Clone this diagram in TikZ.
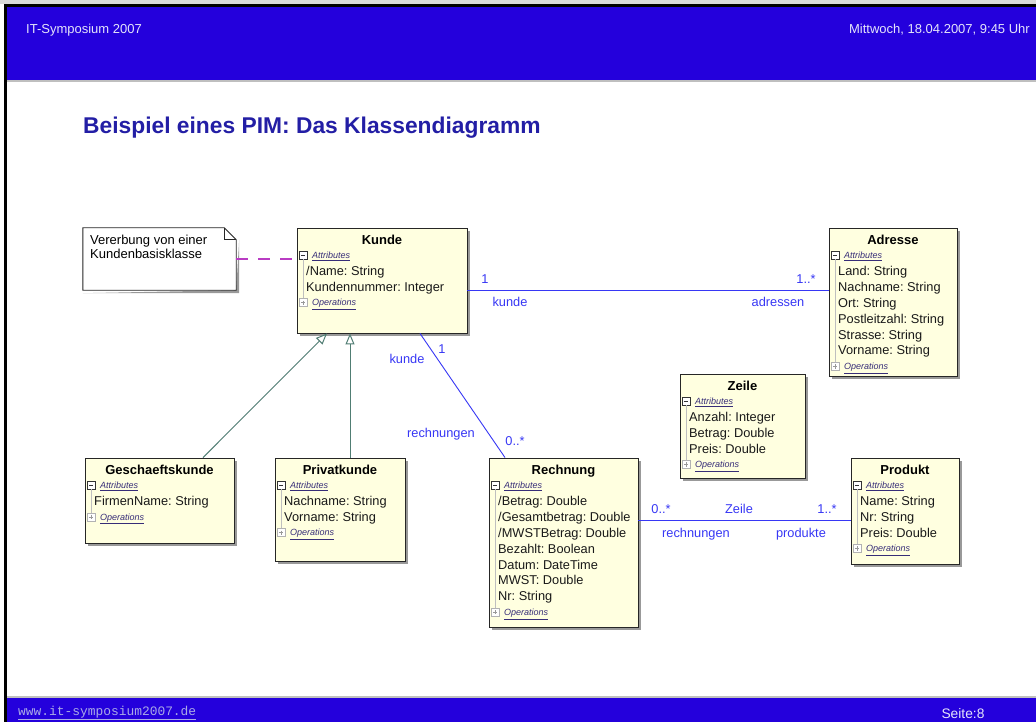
\documentclass[tikz,border=0pt]{standalone}
\usepackage{fontspec}
\setmainfont{Liberation Sans}
\setmonofont{Liberation Mono}
\usetikzlibrary{arrows.meta,shadows}
\frenchspacing

\definecolor{hdrblue}{RGB}{36,0,220}
\definecolor{classfill}{RGB}{255,255,224}
\definecolor{assoc}{RGB}{55,55,245}
\definecolor{gencol}{RGB}{80,125,115}
\definecolor{notelink}{RGB}{185,60,195}
\definecolor{titleblue}{RGB}{35,30,165}
\definecolor{hdrtext}{RGB}{228,228,250}
\definecolor{urltext}{RGB}{170,170,230}
\definecolor{compcol}{RGB}{55,45,120}

\tikzset{
  classbox/.style={draw=black!85, fill=classfill, line width=0.9pt, inner sep=0pt,
    drop shadow={shadow xshift=3pt, shadow yshift=-3pt, fill=black!40, opacity=1}},
  ctitle/.style={font=\fontsize{13}{15}\selectfont\bfseries, inner sep=0pt, text height=10pt, text depth=1pt},
  attr/.style={font=\fontsize{12.8}{15}\selectfont, anchor=west, inner sep=0pt, text=black!90, text height=10pt, text depth=1pt},
  comp/.style={font=\fontsize{9}{10}\selectfont\itshape, anchor=west, inner sep=0pt, text=compcol, text height=7pt, text depth=0.5pt},
  minusbox/.style={draw=black!80, fill=white, minimum size=8pt, inner sep=0pt, line width=0.6pt,
    path picture={\draw[line width=0.7pt] ([xshift=1.8pt]path picture bounding box.west) -- ([xshift=-1.8pt]path picture bounding box.east);}},
  plusbox/.style={draw=black!30, fill=white, minimum size=8pt, inner sep=0pt, line width=0.6pt,
    path picture={\draw[black!40, line width=0.6pt] ([xshift=1.8pt]path picture bounding box.west) -- ([xshift=-1.8pt]path picture bounding box.east)
      ([yshift=-1.8pt]path picture bounding box.north) -- ([yshift=1.8pt]path picture bounding box.south);}},
  treeline/.style={draw=black!25, line width=0.7pt},
  assocline/.style={draw=assoc, line width=0.9pt},
  genline/.style={draw=gencol, line width=1pt, -{Triangle[open, length=11pt, width=9pt, fill=white]}},
  notelinkline/.style={draw=notelink, line width=1.1pt, dash pattern=on 12pt off 10pt},
  mult/.style={font=\fontsize{12.8}{15}\selectfont, text=assoc, inner sep=0pt, text height=10pt, text depth=1pt},
  notetext/.style={font=\fontsize{13}{14}\selectfont, align=left, anchor=north west, inner sep=0pt},
  hdr/.style={font=\fontsize{13}{15}\selectfont, text=hdrtext, inner sep=0pt},
}

% UML class: name, left, top, right, bottom, title, attribute list
\newcommand{\umlclass}[7]{%
  \node[classbox, minimum width={#4-#2}, minimum height={#5-#3}] (#1) at ({(#2+#4)/2},{(#3+#5)/2}) {};
  \node[ctitle] (#1-title) at ({(#2+#4)/2},{#3+12}) {#6};
  \node[minusbox] (#1-min) at ({#2+6},{#3+27}) {};
  \node[comp] (#1-attrs) at ({#2+15},{#3+27}) {\underline{Attributes}};
  \foreach \a [count=\i] in {#7} {
    \node[attr] (#1-a\i) at ({#2+9},{#3+27+15.9*\i}) {\a};
    \xdef\nattr{\i}
  }
  \node[plusbox] (#1-plus) at ({#2+6},{#3+27+15.9*(\nattr+1)}) {};
  \node[comp] (#1-ops) at ({#2+15},{#3+27+15.9*(\nattr+1)}) {\underline{Operations}};
  \draw[treeline] (#1-min.south) -- (#1-plus.north);
}

\begin{document}
\begin{tikzpicture}[x=1pt,y=-1pt]
\useasboundingbox (0,0) rectangle (1036,722);
\fill[white] (0,0) rectangle (1036,722);

% slide frame, header and footer bars
\fill[black!15] (0,0) rectangle (1036,4);
\fill[black] (4,4) rectangle (1036,7);
\fill[black] (4,4) rectangle (7,722);
\fill[hdrblue] (7,7) rectangle (1036,80);
\fill[black!25] (7,80) rectangle (1036,82);
\fill[black!25] (7,696) rectangle (1036,698);
\fill[hdrblue] (7,698) rectangle (1036,722);

\node[hdr, anchor=west] (hleft) at (26,30) {IT-Symposium 2007};
\node[hdr, anchor=east] (hright) at (1030,30) {Mittwoch, 18.04.2007, 9:45 Uhr};
\node[font=\fontsize{12.9}{14}\ttfamily, text=urltext, anchor=west, inner sep=0pt] (url) at (18,713) {\underline{www.it-symposium2007.de}};
\node[hdr, font=\fontsize{13.8}{15}\selectfont] (page) at (963,714) {Seite:8};

% slide title
\node[font=\fontsize{22.8}{26}\selectfont\bfseries, text=titleblue, anchor=west, inner sep=0pt] (title) at (83,128) {Beispiel eines PIM: Das Klassendiagramm};

% note
\node[minimum width=153pt, minimum height=62pt, inner sep=0pt] (note) at (159.5,259) {};
\fill[black!40] ([xshift=3pt,yshift=-12pt]note.north east) -- ([xshift=3pt,yshift=-3pt]note.south east) -- ([xshift=3pt,yshift=-3pt]note.south west) -- ([yshift=-3pt]note.south west) -- (note.south east) -- cycle;
\draw[fill=white, line width=0.9pt, draw=black!85] (note.north west) -- ([xshift=-12pt]note.north east) -- ([yshift=-12pt]note.north east) -- (note.south east) -- (note.south west) -- cycle;
\draw[line width=0.7pt, draw=black!85] ([xshift=-12pt]note.north east) -- ([xshift=-12pt,yshift=-12pt]note.north east) -- ([yshift=-12pt]note.north east);
\node[notetext] (notetxt) at (90,235) {Vererbung von einer\\Kundenbasisklasse};

% classes
\umlclass{kunde}{297}{228}{467}{333}{Kunde}{/Name: String, Kundennummer: Integer}
\umlclass{adresse}{829}{228}{957}{376}{Adresse}{Land: String, Nachname: String, Ort: String, Postleitzahl: String, Strasse: String, Vorname: String}
\umlclass{zeile}{680}{374}{805}{478}{Zeile}{Anzahl: Integer, Betrag: Double, Preis: Double}
\umlclass{gkunde}{85}{458}{234}{543}{Geschaeftskunde}{FirmenName: String}
\umlclass{pkunde}{275}{458}{405}{561}{Privatkunde}{Nachname: String, Vorname: String}
\umlclass{rechnung}{489}{458}{638}{627}{Rechnung}{/Betrag: Double, /Gesamtbetrag: Double, /MWSTBetrag: Double, Bezahlt: Boolean, Datum: DateTime, MWST: Double, Nr: String}
\umlclass{produkt}{851}{458}{959}{564}{Produkt}{Name: String, Nr: String, Preis: Double}

% note link
\draw[notelinkline] (note.east) -- (note.east -| kunde.west);

% generalisations
\draw[genline] ([xshift=43.5pt]gkunde.north) -- ([xshift=-55pt]kunde.south);
\draw[genline] ([xshift=10pt]pkunde.north) -- ([xshift=-32pt]kunde.south);

% associations
\draw[assocline] ([yshift=-9.5pt]kunde.east) coordinate (ka) -- (ka -| adresse.west);
\draw[assocline] ([xshift=38pt]kunde.south) -- ([xshift=-58.5pt]rechnung.north);
\draw[assocline] ([yshift=22.5pt]rechnung.east) coordinate (rp) -- (rp -| produkt.west);

% association end labels
\node[mult] (m1) at (485,279) {1};
\node[mult] (r1) at (510,302) {kunde};
\node[mult] (m2) at (806,279) {1..*};
\node[mult] (r2) at (778,302) {adressen};
\node[mult] (m3) at (442,349) {1};
\node[mult] (r3) at (407,359) {kunde};
\node[mult] (r4) at (441,433) {rechnungen};
\node[mult] (m4) at (515,441) {0..*};
\node[mult] (m5) at (661,509) {0..*};
\node[mult] (n5) at (739,509) {Zeile};
\node[mult] (m6) at (827,509) {1..*};
\node[mult] (r5) at (696,533) {rechnungen};
\node[mult] (r6) at (801,533) {produkte};
\end{tikzpicture}
\end{document}
